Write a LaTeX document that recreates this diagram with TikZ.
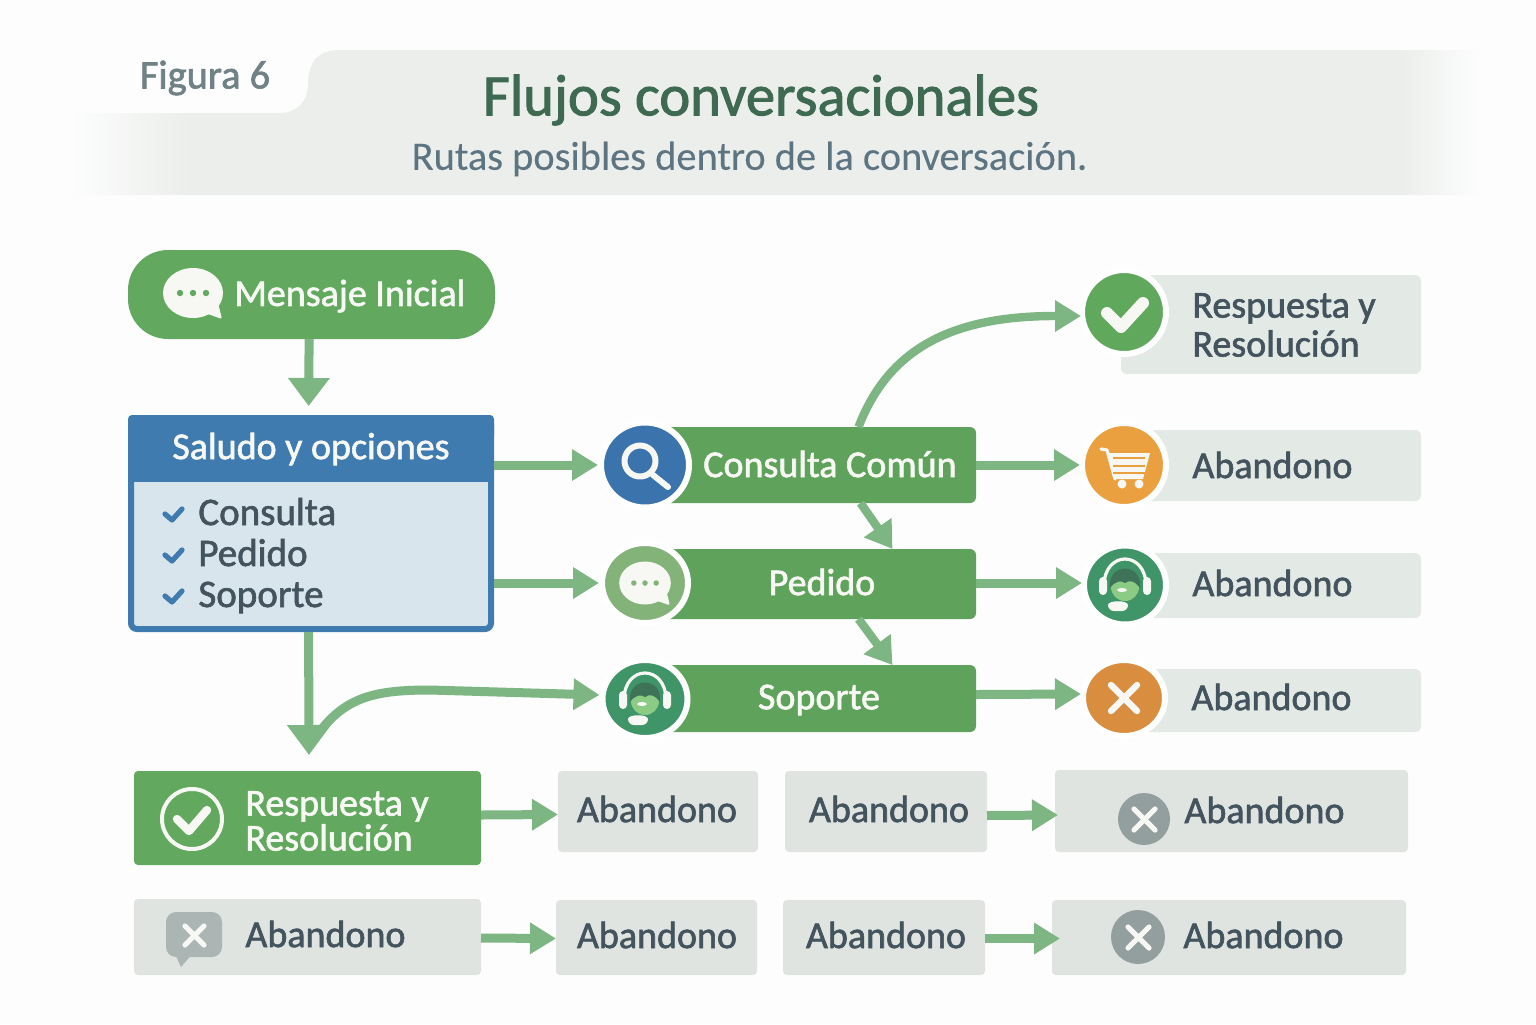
\documentclass[tikz,border=0pt]{standalone}
\usepackage{fontspec}
\setmainfont{Carlito}
\newfontfamily\medf{Carlito}[FakeBold=1.6]
\newfontfamily\semif{Carlito}[FakeBold=0.2]
\usetikzlibrary{arrows.meta,shapes.geometric}
\definecolor{bgc}{HTML}{FDFDFE}
\definecolor{band}{HTML}{EBEEEA}
\definecolor{grn}{HTML}{62A85F}
\definecolor{grnb}{HTML}{5FA25C}
\definecolor{blu}{HTML}{3F7BAE}
\definecolor{bodyc}{HTML}{D9E5EC}
\definecolor{gry}{HTML}{E3E9E4}
\definecolor{gryb}{HTML}{DFE4E1}
\definecolor{ink}{HTML}{44545F}
\definecolor{flowc}{HTML}{7DB683}
\definecolor{icb}{HTML}{3B74AD}
\definecolor{icp}{HTML}{84B37A}
\definecolor{ics}{HTML}{3F9468}
\definecolor{icg}{HTML}{5FA85C}
\definecolor{ico}{HTML}{EAA03E}
\definecolor{icd}{HTML}{D98E3F}
\definecolor{icx}{HTML}{939F9F}
\definecolor{wht}{HTML}{F7F8F3}
\definecolor{facec}{HTML}{8CCB84}
\definecolor{hairc}{HTML}{3E7358}
\definecolor{bubx}{HTML}{AAB5B4}
\definecolor{titlec}{HTML}{3F6A52}
\definecolor{subc}{HTML}{5D7482}
\definecolor{figc}{HTML}{6F8286}
\tikzset{
  fs/.style={font=\medf\fontsize{#1}{#1}\selectfont},
  bar/.style={rectangle,fill=grnb,rounded corners=3pt,outer sep=0pt,inner sep=0pt},
  greybox/.style={rectangle,fill=gry,rounded corners=3pt,outer sep=0pt,inner sep=0pt,text=ink,fs=19},
  greyb/.style={greybox,fill=gryb,rounded corners=2pt},
  whitetxt/.style={text=wht,fs=19,inner sep=0pt},
  inktxt/.style={text=ink,fs=19,inner sep=0pt},
  disc/.style={ellipse,fill=#1,draw=white,line width=3pt,inner sep=0pt},
  flow/.style={draw=flowc,line width=4.5pt,-{Triangle[length=13pt,width=15pt]},shorten >=-1pt},
  flowd/.style={draw=flowc,line width=4.2pt,-{Triangle[length=13pt,width=16pt]}},
  flowb/.style={draw=flowc,line width=4.5pt,-{Triangle[length=14pt,width=20pt]}},
  markw/.style={draw=wht,line cap=round,line join=round},
}
\newcommand{\bubbleicon}[4]{%
  \begin{scope}[shift={(#1)},scale=#2]
    \fill[wht] (0,0) circle[x radius=30,y radius=25];
    \fill[wht,rounded corners=1pt] (12,20) -- (29,26) -- (24,6) -- cycle;
    \foreach \dx in {-13,0,13}{\fill[#3] (\dx,0) circle[radius=#4];}
  \end{scope}}
\newcommand{\headicon}[1]{%
  \begin{scope}[shift={(#1)}]
    \draw[wht,line width=1.6pt] (-21,0) .. controls (-21,-36) and (21,-36) .. (21,0);
    \fill[wht,rounded corners=2pt] (-26,-9) rectangle (-18,9);
    \fill[wht,rounded corners=2pt] (18,-9) rectangle (26,9);
    \fill[facec] (0,1) circle[radius=14];
    \fill[hairc] (-15,2) .. controls (-18,-24) and (18,-24) .. (15,2)
      .. controls (9,-6) and (4,-6) .. (0,-3) .. controls (-4,-6) and (-10,-5) .. cycle;
    \fill[wht] (-3,4) circle[x radius=5,y radius=2];
    \fill[wht,rounded corners=3pt] (-17,25) .. controls (-17,14) and (3,14) .. (3,25) -- cycle;
  \end{scope}}
\begin{document}
\begin{tikzpicture}[x=0.5pt,y=-0.5pt]
\useasboundingbox (0,0) rectangle (1536,1024);
\fill[bgc] (0,0) rectangle (1536,1024);
% header band
\begin{scope}
  \clip (70,113) -- (280,113) .. controls (298,113) and (308,100) .. (308,85)
     .. controls (308,62) and (318,50) .. (340,50) -- (1490,50) -- (1490,195) -- (70,195) -- cycle;
  \shade[left color=bgc,right color=band] (70,40) rectangle (190,200);
  \fill[band] (189,40) rectangle (1400,200);
  \shade[left color=band,right color=bgc] (1399,40) rectangle (1480,200);
\end{scope}
\node[fs=20.2,text=figc,inner sep=0pt] (figlab) at (205,78) {Figura 6};
\node[fs=29.3,text=titlec,inner sep=0pt] (title) at (761,100) {Flujos conversacionales};
\node[font=\semif\fontsize{20.2}{21}\selectfont,text=subc,inner sep=0pt] (subt) at (749.5,159) {Rutas posibles dentro de la conversación.};
% start
\node[rectangle,fill=grn,rounded corners=20pt,minimum width=183.5pt,minimum height=44.5pt,outer sep=0pt] (men) at (311.5,294.5) {};
\bubbleicon{193,293}{1}{grn}{3.2}
\node[whitetxt,anchor=west] (ment) at (234,296) {Mensaje Inicial};
% greeting box
\node[rectangle,fill=bodyc,draw=blu,line width=3pt,rounded corners=3pt,minimum width=180pt,minimum height=105.5pt] (sal) at (311,523.5) {};
\fill[blu,rounded corners=2pt] (128,415) rectangle (494,440);
\fill[blu] (128,430) rectangle (494,482);
\node[whitetxt,anchor=center] (salt) at (311,449) {Saludo y opciones};
\foreach \yy/\lab in {513/Consulta,554/Pedido,595/Soporte}{
  \draw[blu,line width=2.6pt,line cap=round,line join=round] (165,\yy+1) -- (172,\yy+7) -- (182,\yy-4);
  \node[inktxt,anchor=base west,fs=19.5] (opt\lab) at (198,\yy+12) {\lab};
}
% middle bars
\node[bar,minimum width=165.5pt,minimum height=38pt] (bar1) at (810.5,465) {};
\node[bar,minimum width=165.5pt,minimum height=35pt] (bar2) at (810.5,584) {};
\node[bar,minimum width=165.5pt,minimum height=33.5pt] (bar3) at (810.5,698.5) {};
\node[disc=icb,minimum width=44pt,minimum height=42.5pt] (ic1) at (645,465) {};
\node[disc=icp,minimum width=43pt,minimum height=40pt] (ic2) at (645,583) {};
\node[disc=ics,minimum width=42.5pt,minimum height=39pt] (ic3) at (645,699) {};
\draw[markw,line width=3pt] (640,461) circle[radius=15.5];
\draw[markw,line width=3pt] (653,475) -- (668,487);
\bubbleicon{645,583}{0.86}{icp}{3.2}
\headicon{645,700}
\node[whitetxt] (t1) at (830,464) {Consulta Común};
\node[whitetxt] (t2) at (822,582) {Pedido};
\node[whitetxt] (t3) at (819,700) {Soporte};
% right column
\node[greybox,minimum width=150pt,minimum height=49.5pt] (r1) at (1271,324.5) {};
\node[greybox,minimum width=145.5pt,minimum height=35.5pt] (r2) at (1275.5,465.5) {};
\node[greybox,minimum width=145.5pt,minimum height=32.5pt] (r3) at (1275.5,585.5) {};
\node[greybox,minimum width=145.5pt,minimum height=31.5pt] (r4) at (1275.5,700.5) {};
\node[disc=icg,minimum width=42pt,minimum height=42pt] (c1) at (1124,312) {};
\node[disc=ico,minimum width=42pt,minimum height=42pt] (c2) at (1124,465) {};
\node[disc=ics,minimum width=41pt,minimum height=39.5pt] (c3) at (1125,585) {};
\node[disc=icd,minimum width=41pt,minimum height=38pt] (c4) at (1124,698) {};
\draw[markw,line width=6pt] (1107,313) -- (1121,327) -- (1143,303);
% cart
\begin{scope}[shift={(1124,465)}]
  \draw[markw,line width=1.6pt] (-23,-16) -- (-17,-15) -- (-9,14);
  \fill[wht] (-17,-12) -- (26,-12) -- (19,14) -- (-10,14) -- cycle;
  \foreach \sy in {-7,1,8}{\draw[ico,line width=1pt] (-11,\sy) -- (21,\sy);}
  \fill[wht] (-2,19) circle[radius=4.5] (15,19) circle[radius=4.5];
\end{scope}
\headicon{1125,586}
\draw[markw,line width=3.2pt] (1111,685) -- (1137,711) (1137,685) -- (1111,711);
\node[inktxt,anchor=west,align=left,font=\medf\fontsize{19}{19.5}\selectfont] (rt1) at (1192,325) {Respuesta y\\Resolución};
\node[inktxt,anchor=west] (rt2) at (1192,465) {Abandono};
\node[inktxt,anchor=west] (rt3) at (1192,583) {Abandono};
\node[inktxt,anchor=west] (rt4) at (1191,697) {Abandono};
% row 4
\node[bar,fill=grn,rounded corners=2pt,minimum width=173.5pt,minimum height=47pt] (a4) at (307.5,818) {};
\draw[wht,line width=2pt] (192,819) circle[radius=30];
\draw[markw,line width=4.2pt] (177,819) -- (189,831) -- (207,810);
\node[whitetxt,anchor=west,align=left,font=\medf\fontsize{19}{17.5}\selectfont] (a4t) at (245,821) {Respuesta y\\Resolución};
\node[greyb,minimum width=100pt,minimum height=40.5pt] (b4) at (658,811.5) {};
\node[inktxt] (b4t) at (657,809) {Abandono};
\node[greyb,minimum width=101pt,minimum height=40.5pt] (c4b) at (886,811.5) {};
\node[inktxt] (c4t) at (889,809) {Abandono};
\node[greyb,minimum width=176.5pt,minimum height=41pt] (d4) at (1231.5,811) {};
\fill[icx] (1144,819) circle[radius=26];
\draw[markw,line width=2.6pt] (1134,809) -- (1155,830) (1155,809) -- (1134,830);
\node[inktxt,anchor=west] (d4t) at (1184,810) {Abandono};
% row 5
\node[greyb,minimum width=173.5pt,minimum height=38pt] (a5) at (307.5,937) {};
\fill[bubx,rounded corners=5pt] (166,912) rectangle (222,957);
\fill[bubx] (174,952) -- (181,967) -- (194,952) -- cycle;
\draw[markw,line width=2.6pt] (185,926) -- (204,945) (204,926) -- (185,945);
\node[inktxt,anchor=west] (a5t) at (245,934) {Abandono};
\node[greyb,minimum width=100.5pt,minimum height=37.5pt] (b5) at (656.5,937.5) {};
\node[inktxt] (b5t) at (657,935) {Abandono};
\node[greyb,minimum width=101pt,minimum height=37.5pt] (c5) at (884,937.5) {};
\node[inktxt] (c5t) at (886,935) {Abandono};
\node[greyb,minimum width=177pt,minimum height=37.5pt] (d5) at (1229,937.5) {};
\fill[icx] (1138,937) circle[radius=27];
\draw[markw,line width=2.6pt] (1128,927) -- (1149,948) (1149,927) -- (1128,948);
\node[inktxt,anchor=west] (d5t) at (1183,935) {Abandono};
% connectors
\draw[flowb,shorten >=4.5pt] ([xshift=-1.2pt]men.south) -- ([xshift=-1.2pt]sal.north);
\draw[flow,shorten >=0pt] (sal.east |- ic1.center) -- (ic1.west);
\draw[flow,shorten >=0pt] (sal.east |- ic2.center) -- (ic2.west);
\coordinate (tipS) at (309,755);
\draw[draw=flowc,line width=4.5pt,-{Triangle[length=15pt,width=21pt]}] ([xshift=-1.2pt]sal.south) -- (tipS);
\coordinate (curveS) at (318,734);
\draw[flow,shorten >=0pt] (curveS) .. controls (345,697) and (375,690) .. (430,690) -- ([yshift=2pt]ic3.west);
\draw[flow,line width=4.2pt] ([xshift=24pt]bar1.north) .. controls (888,350) and (950,316) .. (1055,316) -- ([yshift=-2pt]c1.west);
\draw[flowd] ([xshift=25pt]bar1.south) -- ([xshift=41pt]bar2.north);
\draw[flowd] ([xshift=24pt]bar2.south) -- ([xshift=41pt]bar3.north);
\draw[flow,shorten >=-.5pt] (bar1.east) -- (c2.west);
\draw[flow,shorten >=-.5pt] ([yshift=.5pt]bar2.east) -- ([yshift=1pt]c3.west);
\draw[flow,shorten >=-.5pt] ([yshift=2pt]bar3.east) -- ([yshift=2pt]c4.west);
\draw[flow,shorten >=0pt] ([yshift=1.5pt]a4.east) -- ([yshift=-1.5pt]b4.west);
\draw[flow,shorten >=0pt] ([yshift=-2pt]c4b.east) -- ([xshift=1.5pt,yshift=-2pt]d4.west);
\draw[flow,shorten >=0pt] ([yshift=-.5pt]a5.east) -- ([yshift=-.5pt]b5.west);
\draw[flow,shorten >=0pt] ([yshift=-.5pt]c5.east) -- ([xshift=4pt,yshift=-.5pt]d5.west);
\end{tikzpicture}
\end{document}
